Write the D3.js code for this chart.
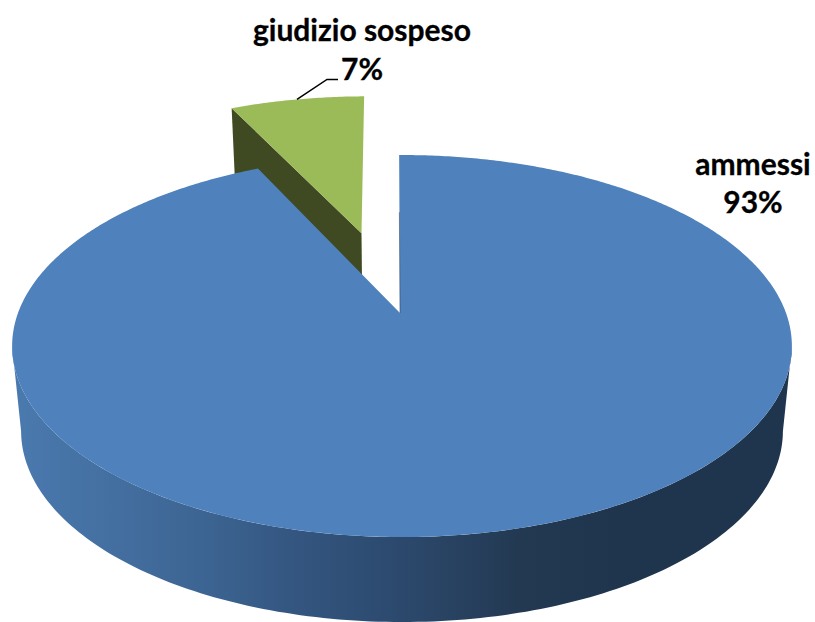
<!DOCTYPE html>
<html>
<head>
<meta charset="utf-8">
<script src="https://cdn.jsdelivr.net/npm/d3@7.9.0/dist/d3.min.js"></script>
<style>
  html, body { margin: 0; padding: 0; background: #fff; }
  svg { display: block; }
  text { font-family: Lato, "Open Sans", sans-serif; font-weight: 700; fill: #000; stroke: #000; stroke-width: 0.3px; }
</style>
</head>
<body>
<div id="chart"></div>
<script>
const categories = ['ammessi', 'giudizio sospeso'];
const values = [93, 7];
const percentLabels = ['93%', '7%'];
const sliceColors = ['#4F81BD', '#9BBB59'];

const width = 815;
const height = 622;

// perspective of the pie plane, fitted to the outline of the top face
const cx = 400, cy = 313;
const planeX = 384, planeY = 185.3, tilt = 0.1729;
const depth = 85, depthShrink = 0.023;
const explode = 0.478;
const rotation = -0.5 * Math.PI / 180;
const rimDrift = 2; // rim of the big slice sits a bit right of its apex

// angle + radius in the pie plane -> screen point. level 0 is the top face, 1 the bottom
function project(angle, r = 1, level = 0, du = 0, dv = 0) {
    const u = Math.sin(angle) * r + du;
    const v = -Math.cos(angle) * r + dv;
    const w = 1 - tilt * v;
    const shrink = 1 - depthShrink * level;
    const drift = du === 0 ? rimDrift * r : 0;
    return [cx + drift + shrink * planeX * u / w, cy + planeY * v / w + depth * level];
}

const line = d3.line();

function sliceOutline(d, du = 0, dv = 0) {
    const steps = Math.ceil((d.endAngle - d.startAngle) / 0.01);
    const angles = d3.range(steps + 1).map(i => d.startAngle + (d.endAngle - d.startAngle) * i / steps);
    return line([project(0, 0, 0, du, dv), ...angles.map(a => project(a, 1, 0, du, dv))]) + 'Z';
}

const pie = d3.pie().sort(null).startAngle(rotation).endAngle(rotation + 2 * Math.PI);
const arcs = pie(values);
const blue = arcs[0], green = arcs[1];

const svg = d3.select('#chart').append('svg')
    .attr('width', width)
    .attr('height', height)
    .attr('viewBox', [0, 0, width, height]);

const wallStops = [
    [20, '#4A79AE'], [200, '#3D6593'], [300, '#33557F'],
    [400, '#2C496D'], [520, '#233952'], [620, '#1F344D']
];
const grad = svg.append('defs').append('linearGradient')
    .attr('id', 'wall')
    .attr('gradientUnits', 'userSpaceOnUse')
    .attr('x1', 0).attr('x2', width).attr('y1', 0).attr('y2', 0);
grad.selectAll('stop').data(wallStops).join('stop')
    .attr('offset', d => d[0] / width)
    .attr('stop-color', d => d[1]);

// exploded slice: offset along its middle angle
const mid = (green.startAngle + green.endAngle) / 2;
const du = Math.sin(mid) * explode;
const dv = -Math.cos(mid) * explode;

// side of the green slice, the blue top covers the lower part of it
svg.append('path')
    .attr('d', line([
        project(green.startAngle, 1, 0, du, dv),
        project(0, 0, 0, du, dv),
        project(0, 0, 1, du, dv),
        project(green.startAngle, 1, 1, du, dv)
    ]) + 'Z')
    .attr('fill', '#3F4A23');

svg.append('path')
    .attr('d', sliceOutline(green, du, dv))
    .attr('fill', sliceColors[1]);

// front wall of the blue slice
const front = d3.range(100, 260.5, 1).map(a => a * Math.PI / 180);
svg.append('path')
    .attr('d', line([
        ...front.map(a => project(a, 1, 0)),
        ...front.slice().reverse().map(a => project(a, 1, 1))
    ]) + 'Z')
    .attr('fill', 'url(#wall)');

svg.append('path')
    .attr('d', sliceOutline(blue))
    .attr('fill', sliceColors[0]);

// thin dark edge on the cut
svg.append('path')
    .attr('d', line([project(0, 0), project(blue.startAngle, 0.6)]))
    .attr('stroke', '#1F344D')
    .attr('stroke-opacity', 0.7)
    .attr('stroke-width', 0.7)
    .attr('fill', 'none');

// leader line of the small slice
const leadStart = project(mid, 1, 0, du, dv);
svg.append('path')
    .attr('d', line([leadStart, [leadStart[0] + 30, leadStart[1] - 20], [leadStart[0] + 41, leadStart[1] - 20]]))
    .attr('stroke', '#000')
    .attr('stroke-width', 1.5)
    .attr('fill', 'none');

const labelPos = [
    { x: 753, y1: 175, y2: 213 },
    { x: 362, y1: 41, y2: 80 }
];
categories.forEach((name, i) => {
    const p = labelPos[i];
    svg.append('text').attr('x', p.x).attr('y', p.y1)
        .attr('text-anchor', 'middle').attr('font-size', 30).text(name);
    svg.append('text').attr('x', p.x).attr('y', p.y2)
        .attr('text-anchor', 'middle').attr('font-size', 30).text(percentLabels[i]);
});
</script>
</body>
</html>
